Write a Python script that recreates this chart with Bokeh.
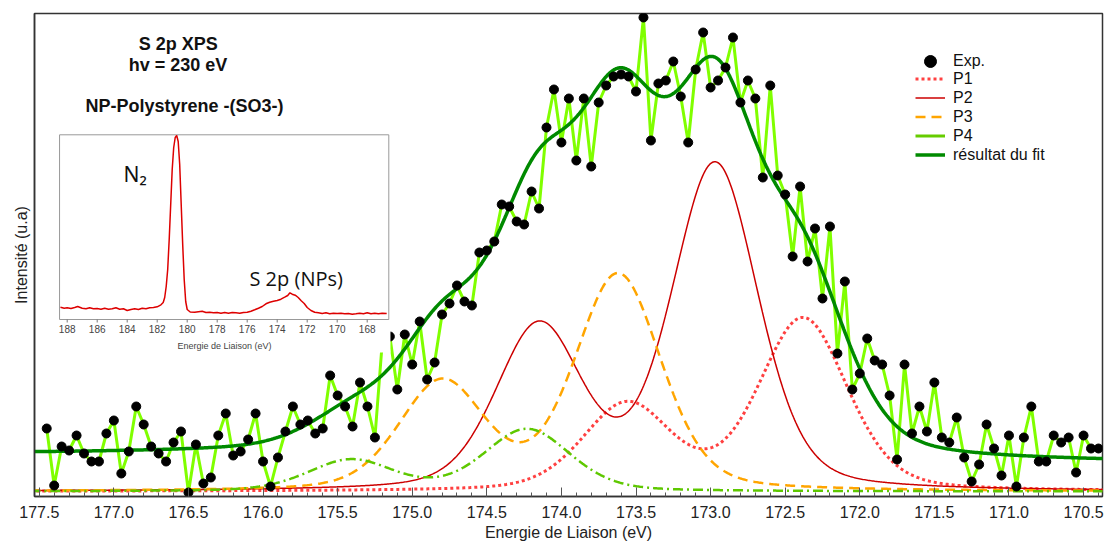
import numpy as np
from bokeh.plotting import figure
from bokeh.models import (Range1d, Label, Legend, LegendItem, FixedTicker,
                          SingleIntervalTicker, PrintfTickFormatter, ColumnDataSource)
from bokeh.core.properties import value
from bokeh.embed import file_html
from bokeh.resources import INLINE

# ---------------- experimental S 2p spectrum (hv = 230 eV) ----------------
E_START = 177.45          # eV, first point
E_STEP = 0.05             # eV, energy step
exp_intensity = [63, 6, 45, 41, 56, 38, 30, 30, 58, 71,
                 18, 40, 85, 67, 45, 38, 30, 49, 60, -1,
                 47, 8, 14, 56, 78, 36, 40, 52, 78, 30,
                 5, 34, 60, 85, 67, 71, 58, 63, 116, 96,
                 85, 65, 109, 85, 54, 151, 155, 102, 157, 127,
                 170, 112, 129, 177, 188, 206, 190, 186, 239, 241,
                 250, 287, 285, 270, 267, 300, 283, 364, 402, 349,
                 393, 331, 393, 325, 389, 406, 415, 417, 415, 400,
                 474, 351, 408, 411, 430, 395, 349, 422, 459, 404,
                 411, 424, 454, 389, 411, 393, 314, 406, 316, 297,
                 235, 305, 230, 263, 193, 265, 138, 210, 102, 118,
                 153, 131, 127, 96, 32, 127, 58, 85, 60, 109,
                 54, 49, 74, 34, 10, 27, 67, 43, 16, 56,
                 5, 54, 85, 30, 30, 56, 49, 54, 19, 56,
                 43, 43]
exp_energy = np.round(E_START - E_STEP * np.arange(len(exp_intensity)), 2)

# ---------------- fitted components (S 2p3/2 - 2p1/2 doublets) ----------------
peak_names = ["P1", "P2", "P3", "P4"]
peak_centers = [172.38, 172.97, 173.62, 174.23]   # 2p3/2 binding energy (eV)
peak_heights = [172, 326, 216, 62]
peak_fwhm = [0.70, 0.68, 0.68, 0.68]
SO_SPLIT = 1.18      # eV
SO_RATIO = 0.5       # 2p1/2 / 2p3/2
GL_MIX = 0.3         # Lorentzian fraction
BG_HIGH = 37         # background, high binding energy side
BG_LOW = 28          # background, low binding energy side

# ---------------- inset: wide spectrum N2 / S 2p ----------------
inset_energy = [188.45, 188.2, 188.0, 187.75, 187.5, 187.3, 187.0, 186.75, 186.5, 186.25,
                186.0, 185.75, 185.5, 185.25, 185.0, 184.75, 184.5, 184.25, 184.0, 183.75,
                183.5, 183.25, 183.0, 182.75, 182.5, 182.25, 182.0, 181.75, 181.6, 181.5,
                181.4, 181.3, 181.2, 181.1, 181.0, 180.9, 180.8, 180.7, 180.6, 180.5,
                180.4, 180.3, 180.2, 180.1, 180.0, 179.8, 179.5, 179.0, 178.75, 178.5,
                178.25, 178.0, 177.75, 177.5, 177.25, 177.0, 176.75, 176.5, 176.25, 176.0,
                175.75, 175.5, 175.25, 175.0, 174.75, 174.5, 174.25, 174.0, 173.75, 173.5,
                173.3, 173.15, 173.0, 172.8, 172.6, 172.4, 172.2, 172.0, 171.75, 171.5,
                171.25, 171.0, 170.75, 170.5, 170.25, 170.0, 169.75, 169.5, 169.25, 169.0,
                168.75, 168.5, 168.25, 168.0, 167.75, 167.5, 167.25, 167.0, 166.7]
inset_intensity = [12.3, 11.3, 11.7, 11.0, 12.0, 13.0, 11.3, 10.7, 11.7, 10.7,
                   11.0, 10.3, 11.3, 10.3, 10.7, 11.7, 10.3, 10.7, 9.0, 10.0,
                   10.7, 10.0, 11.3, 10.7, 11.7, 12.0, 12.7, 14.7, 17.0, 22.0,
                   33.0, 50.0, 80.0, 115.0, 150.0, 172.0, 182.0, 184.0, 178.0, 155.0,
                   115.0, 75.0, 40.0, 18.0, 10.0, 7.5, 7.3, 8.3, 7.0, 7.3,
                   6.7, 7.0, 6.3, 7.0, 6.3, 7.0, 6.7, 6.3, 7.0, 7.3,
                   8.3, 9.7, 11.3, 13.0, 15.7, 17.3, 18.3, 19.0, 20.3, 22.3,
                   24.0, 26.7, 25.3, 24.3, 22.0, 18.7, 16.0, 12.0, 9.0, 7.3,
                   6.7, 6.0, 6.7, 5.7, 6.3, 6.0, 6.3, 5.7, 6.0, 5.3,
                   5.7, 6.3, 5.7, 6.7, 5.7, 6.3, 5.7, 6.3, 6.0]
inset_ticks = [188, 186, 184, 182, 180, 178, 176, 174, 172, 170, 168]
INSET_X = (188.51, 166.56)     # inset frame limits (eV)
INSET_Y = (0.0, 184.7)         # inset frame limits (a.u.)

# ---------------- model curves ----------------
def pseudo_voigt(x, c, w, eta):
    t = ((x - c) / w) ** 2
    return eta / (1 + 4 * t) + (1 - eta) * np.exp(-4 * np.log(2) * t)

e_fine = np.linspace(177.56, 170.34, 900)
components = []
for c, h, w in zip(peak_centers, peak_heights, peak_fwhm):
    comp = h * (pseudo_voigt(e_fine, c, w, GL_MIX)
                + SO_RATIO * pseudo_voigt(e_fine, c + SO_SPLIT, w, GL_MIX))
    components.append(comp)
peak_sum = np.sum(components, axis=0)
# Shirley-type background: step proportional to integrated peak area (from low BE side)
cum = np.cumsum(peak_sum[::-1])[::-1]
cum = cum[0] - cum
cum = cum / cum.max()
background = BG_LOW + (BG_HIGH - BG_LOW) * (1 - cum)
fit_total = peak_sum + background

# ---------------- figure ----------------
p = figure(width=1105, height=546, output_backend="svg", toolbar_location=None,
           x_range=Range1d(177.532, 170.373), y_range=Range1d(-5, 478),
           min_border_left=34, min_border_right=3, min_border_top=13, min_border_bottom=50)
p.extra_x_ranges = {"ix": Range1d(190.18, 118.98)}
p.extra_y_ranges = {"iy": Range1d(-177, 306)}
p.xgrid.visible = False
p.ygrid.visible = False
p.outline_line_color = "#333333"
p.outline_line_width = 1.5
p.background_fill_color = "white"
p.border_fill_color = "white"

xa = p.xaxis[0]
xa.ticker = SingleIntervalTicker(interval=0.5, num_minor_ticks=5)
xa.formatter = PrintfTickFormatter(format="%.1f")
xa.axis_label = "Energie de Liaison (eV)"
xa.axis_label_text_font = "Liberation Sans"
xa.axis_label_text_font_style = "normal"
xa.axis_label_text_font_size = "16px"
xa.axis_label_text_color = "#222222"
xa.axis_label_standoff = 3
xa.major_label_text_font = "Liberation Sans"
xa.major_label_text_font_size = "16px"
xa.major_label_text_color = "#222222"
xa.major_label_standoff = 9
xa.major_tick_in = 9
xa.major_tick_out = 0
xa.minor_tick_in = 4
xa.minor_tick_out = 0
xa.axis_line_color = "#333333"
xa.axis_line_width = 1.5
xa.major_tick_line_color = "#555555"
xa.minor_tick_line_color = "#555555"

ya = p.yaxis[0]
ya.ticker = FixedTicker(ticks=[])
ya.axis_label = "Intensité (u.a)"
ya.axis_label_text_font = "Liberation Sans"
ya.axis_label_text_font_style = "normal"
ya.axis_label_text_font_size = "16px"
ya.axis_label_text_color = "#222222"
ya.axis_label_standoff = 5
ya.major_tick_in = 0
ya.major_tick_out = 0
ya.minor_tick_in = 0
ya.minor_tick_out = 0
ya.major_label_standoff = 0
ya.axis_line_color = "#333333"
ya.axis_line_width = 1.5

src = ColumnDataSource(dict(e=exp_energy, i=exp_intensity))
p.line("e", "i", source=src, line_color="#80ff00", line_width=3)

styles = {
    "P1": dict(line_color="#ff4040", line_width=3, line_dash="3 3"),
    "P2": dict(line_color="#cc0000", line_width=1.5),
    "P3": dict(line_color="#ffa500", line_width=2.5, line_dash="10 6"),
    "P4": dict(line_color="#5ec800", line_width=2.5, line_dash="10 4 2 4"),
}
comp_r = {}
for name, comp in zip(peak_names, components):
    comp_r[name] = p.line(e_fine, comp, **styles[name])

fit_r = p.line(e_fine, fit_total, line_color="#008a00", line_width=3.5)
dots = p.scatter("e", "i", source=src, size=9, color="black")

# legend-only glyphs (not drawn in the plot area: NaN data)
nan_src = ColumnDataSource(dict(x=[float("nan")], y=[float("nan")]))
p4_leg = p.line("x", "y", source=nan_src, line_color="#66cc00", line_width=3)
exp_leg = p.scatter("x", "y", source=nan_src, size=12, color="black")

# ---------------- inset ----------------
p.quad(left=[INSET_X[0] + 1.27], right=[INSET_X[1] - 0.11], bottom=[INSET_Y[0] - 33],
       top=[INSET_Y[1] + 9], fill_color="white", line_color=None,
       x_range_name="ix", y_range_name="iy")
p.quad(left=[INSET_X[0]], right=[INSET_X[1]], bottom=[INSET_Y[0]], top=[INSET_Y[1]],
       fill_color=None, line_color="#999999", line_width=1,
       x_range_name="ix", y_range_name="iy")
p.segment(x0=inset_ticks, x1=inset_ticks, y0=[0] * len(inset_ticks), y1=[-3] * len(inset_ticks),
          line_color="#777777", line_width=1, x_range_name="ix", y_range_name="iy")
p.text(x=inset_ticks, y=[-5] * len(inset_ticks), text=[str(t) for t in inset_ticks],
       text_align="center", text_baseline="top", text_font_size="10px",
       text_font=value("Liberation Sans"), text_color="#444444",
       x_range_name="ix", y_range_name="iy")
p.line(inset_energy, inset_intensity, line_color="#dd0000", line_width=1.5,
       x_range_name="ix", y_range_name="iy")
p.add_layout(Label(x=177.51, y=-26, text="Energie de Liaison (eV)", text_align="center",
                   text_baseline="middle", text_font_size="9px", text_font="Liberation Sans",
                   text_color="#444444", x_range_name="ix", y_range_name="iy"))
p.add_layout(Label(x=184.25, y=146, text="N₂", text_align="left",
                   text_baseline="alphabetic", text_font_size="21px", text_font="Noto Sans",
                   text_color="#111111", x_range_name="ix", y_range_name="iy"))
p.add_layout(Label(x=175.85, y=41, text="S 2p (NPs)", text_align="left",
                   text_baseline="alphabetic", text_font_size="20px", text_font="Open Sans",
                   text_color="#111111", x_range_name="ix", y_range_name="iy"))

# ---------------- titles ----------------
for txt, ex, iy in [("S 2p XPS", 176.833, 448), ("hv = 230 eV", 176.90, 427),
                    ("NP-Polystyrene  -(SO3-)", 177.19, 386)]:
    p.add_layout(Label(x=ex, y=iy, text=txt, text_align="left", text_baseline="alphabetic",
                       text_font_size="18px", text_font="Liberation Sans",
                       text_font_style="bold", text_color="#111111"))

# ---------------- legend ----------------
def style_legend(lg, gh):
    lg.border_line_color = None
    lg.background_fill_alpha = 0
    lg.padding = 0
    lg.margin = 0
    lg.spacing = 0
    lg.glyph_width = 30
    lg.glyph_height = gh
    lg.label_height = gh
    lg.label_standoff = 8
    lg.label_text_font = "Liberation Sans"
    lg.label_text_font_size = "16px"
    lg.label_text_color = "#111111"

legend_exp = Legend(items=[LegendItem(label="Exp.", renderers=[exp_leg])],
                    location=(881, 420))
style_legend(legend_exp, 30)
legend = Legend(items=[
    LegendItem(label="P1", renderers=[comp_r["P1"]]),
    LegendItem(label="P2", renderers=[comp_r["P2"]]),
    LegendItem(label="P3", renderers=[comp_r["P3"]]),
    LegendItem(label="P4", renderers=[p4_leg]),
    LegendItem(label="résultat du fit", renderers=[fit_r]),
], location=(881, 332))
style_legend(legend, 19)
p.add_layout(legend_exp)
p.add_layout(legend)

open("out.html", "w").write(file_html(p, INLINE))
